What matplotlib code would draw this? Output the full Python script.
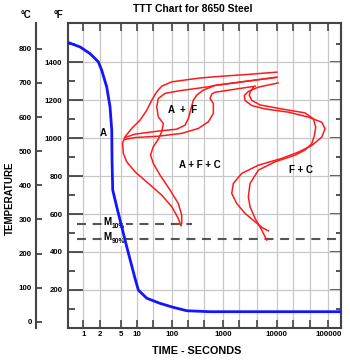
import numpy as np
import matplotlib
matplotlib.use('Agg')
import matplotlib.pyplot as plt

plt.rcParams['font.family'] = ['Liberation Sans', 'DejaVu Sans']
plt.rcParams['font.weight'] = 'bold'

# ---- data (time in seconds, temperature in deg F) ----
cool_time = [0.53, 0.87, 1.33, 1.90, 2.19, 2.71, 3.12, 3.36, 3.40, 3.50, 4.15, 5.14,
             6.36, 9.06, 10.7, 18.8, 45.7, 107, 196, 552, 170000]
cool_temp = [1505, 1482, 1447, 1403, 1359, 1271, 1166, 1043, 885, 727, 639, 533,
             428, 261, 199, 156, 129, 108, 90, 85, 85]

# left group of transformation curves
curve_a_time = [10000, 2547, 690, 328, 100, 51.2, 36.6, 26.2, 18.8, 12.0, 7.87, 5.92,
                5.32, 5.51, 6.36, 9.07, 20.9, 51.2, 100, 134, 150]
curve_a_temp = [1349, 1336, 1325, 1317, 1298, 1275, 1245, 1201, 1148, 1096, 1052, 1008,
                974, 920, 876, 823, 762, 700, 639, 577, 540]

curve_b_time = [10000, 2547, 1077, 690, 512, 283, 134, 63.8, 40.7, 36.6, 40.7, 57.0,
                51.2, 40.7, 28.6, 24.2, 29.2, 45.7, 89.3, 134, 156, 156, 150]
curve_b_temp = [1322, 1300, 1286, 1279, 1272, 1262, 1250, 1237, 1210, 1166, 1113, 1078,
                1034, 996, 953, 911, 867, 806, 727, 656, 595, 551, 540]

curve_c_time = [10000, 2547, 1077, 690, 409, 305, 262, 237, 210, 181, 125, 40.7, 9.07, 5.92]
curve_c_temp = [1322, 1300, 1286, 1279, 1254, 1228, 1201, 1157, 1105, 1069, 1048, 1038, 1022, 1004]

curve_d_time = [3929, 1656, 690, 596, 552, 640, 640, 512, 328, 156, 40.7, 9.07, 5.92]
curve_d_temp = [1275, 1259, 1243, 1233, 1210, 1184, 1131, 1087, 1052, 1026, 1011, 1004, 994]

# right group (ferrite + carbide)
right1_time = [10600, 4520, 2939, 2472, 2547, 3404, 6039, 16780, 40900, 74500, 86300, 74500,
               47600, 26200, 12500, 4520, 2213, 1539, 1436, 1782, 2547, 3929, 5610, 6966]
right1_temp = [1292, 1270, 1247, 1226, 1200, 1173, 1155, 1138, 1112, 1085, 1050, 1006,
               962, 927, 894, 858, 815, 762, 709, 656, 604, 559, 525, 512]

right2_time = [3648, 3162, 3069, 3404, 4864, 12500, 35300, 51200, 57000, 53600, 47600,
               35300, 22600, 9290, 4520, 3162, 2939, 3162, 3929, 5236, 6501]
right2_temp = [1270, 1243, 1226, 1200, 1176, 1155, 1134, 1103, 1059, 1015, 971,
               938, 911, 876, 832, 762, 691, 639, 577, 516, 463]

# martensite lines
ms_temp = [550, 470]
ms_label = ['10%', '90%']
ms_end = [242, 172000]

region_labels = ['A', 'A  +  F', 'A + F + C', 'F + C']
region_time = [2.35, 162, 353, 28900]
region_temp = [1027, 1148, 858, 832]

x_major = [1, 2, 5, 10, 100, 1000, 10000, 100000]
x_major_labels = ['1', '2', '5', '10', '100', '1000', '10000', '100000']
x_minor = [28, 210, 430, 2000, 4200, 21000, 44000]
f_major = list(range(200, 1401, 200))
f_minor = list(range(100, 1501, 200))
c_ticks = list(range(0, 801, 100))

# ---- uneven log time axis (decade 10-100 is squeezed in the original) ----
LOG_KNOTS = [-1, 0, 1, 2, 3, 4, 5, 6]
POS_KNOTS = [29.3, 83.3, 137.3, 171.7, 223.3, 276.7, 328.3, 379.9]


def fwd(t):
    t = np.asarray(t, dtype=float)
    return np.interp(np.log10(np.maximum(t, 1e-6)), LOG_KNOTS, POS_KNOTS)


def inv(p):
    return 10 ** np.interp(np.asarray(p, dtype=float), POS_KNOTS, LOG_KNOTS)


def f2c(f):
    return (np.asarray(f, dtype=float) - 32) * 5 / 9


def c2f(c):
    return np.asarray(c, dtype=float) * 9 / 5 + 32


W, H = 350, 364
fig = plt.figure(figsize=(W / 100, H / 100), dpi=100)
left, right, top, bottom = 68, 340.5, 22.7, 327.8
ax = fig.add_axes([left / W, 1 - bottom / H, (right - left) / W, (bottom - top) / H])

spine_col = '#454545'
grid_col = '#c8c8c8'

ax.set_xscale('function', functions=(fwd, inv))
ax.set_xlim(0.52, 172000)
ax.set_ylim(0, 1610)

ax.set_xticks(x_major, x_major_labels)
ax.set_xticks(x_minor, minor=True)
ax.set_yticks(f_major)
ax.set_yticks(f_minor, minor=True)

ax.grid(True, which='both', axis='x', color=grid_col, lw=0.9)
ax.grid(True, which='major', axis='y', color=grid_col, lw=0.9)
ax.set_axisbelow(True)

for s in ax.spines.values():
    s.set_color(spine_col)
    s.set_linewidth(1.5)

ax.tick_params(axis='x', which='both', direction='in', top=True, bottom=True,
               length=6, width=1.2, color=spine_col, labelsize=5.7, pad=2.5)
ax.tick_params(axis='y', which='major', direction='in', left=True, right=False,
               length=11, width=1.3, color=spine_col, labelsize=5.7, pad=4)
ax.tick_params(axis='y', which='minor', direction='in', left=True, right=False,
               length=5, width=1.3, color=spine_col)

# right side ticks (same F scale, shorter)
ax_r = ax.secondary_yaxis('right', functions=(lambda v: v, lambda v: v))
ax_r.set_yticks(f_major)
ax_r.set_yticks(f_minor, minor=True)
ax_r.tick_params(which='major', direction='in', length=8, width=1.3, color=spine_col,
                 labelright=False)
ax_r.tick_params(which='minor', direction='in', length=3.5, width=1.3, color=spine_col)
ax_r.spines['right'].set_color(spine_col)
ax_r.spines['right'].set_linewidth(1.5)

# Celsius axis on the far left
ax_c = ax.secondary_yaxis(-(left - 36) / (right - left), functions=(f2c, c2f))
ax_c.set_yticks(c_ticks)
ax_c.tick_params(direction='in', length=4.5, width=1.3, color=spine_col,
                 labelsize=5.7, pad=3)
ax_c.spines['left'].set_color(spine_col)
ax_c.spines['left'].set_linewidth(1.5)

# martensite dashed lines
for temp, lab, end in zip(ms_temp, ms_label, ms_end):
    ax.plot([0.76, end], [temp, temp], color='#555555', lw=1.5,
            dashes=(4.3, 3.2), zorder=2)
    ax.text(2.32, temp - 9, 'M', fontsize=7, ha='left', va='baseline', zorder=3,
            bbox=dict(facecolor='white', edgecolor='none', pad=0.3))
    ax.text(3.4, temp - 24, lab, fontsize=4.8, ha='left', va='baseline', zorder=3,
            bbox=dict(facecolor='white', edgecolor='none', pad=0.2))

red_curves = [(curve_a_time, curve_a_temp), (curve_b_time, curve_b_temp),
              (curve_c_time, curve_c_temp), (curve_d_time, curve_d_temp),
              (right1_time, right1_temp), (right2_time, right2_temp)]
for t, f in red_curves:
    ax.plot(t, f, color='#ff1a1a', lw=1.1, solid_joinstyle='round', zorder=4)

ax.plot(cool_time, cool_temp, color='#1414ff', lw=2.0, solid_joinstyle='round', zorder=5)

for lab, t, f in zip(region_labels, region_time, region_temp):
    ax.text(t, f, lab, fontsize=7, ha='center', va='center', zorder=6)

fig.text(193 / W, 1 - 8.5 / H, 'TTT Chart for 8650 Steel', fontsize=7.5,
         ha='center', va='center')
fig.text(197 / W, 1 - 351 / H, 'TIME - SECONDS', fontsize=7.8, ha='center', va='center')
fig.text(10 / W, 1 - 198 / H, 'TEMPERATURE', fontsize=7, rotation=90,
         ha='center', va='center')
fig.text(26 / W, 1 - 15 / H, '°C', fontsize=7, ha='center', va='center')
fig.text(58 / W, 1 - 15 / H, '°F', fontsize=7, ha='center', va='center')

fig.savefig('out.png', dpi=100)
